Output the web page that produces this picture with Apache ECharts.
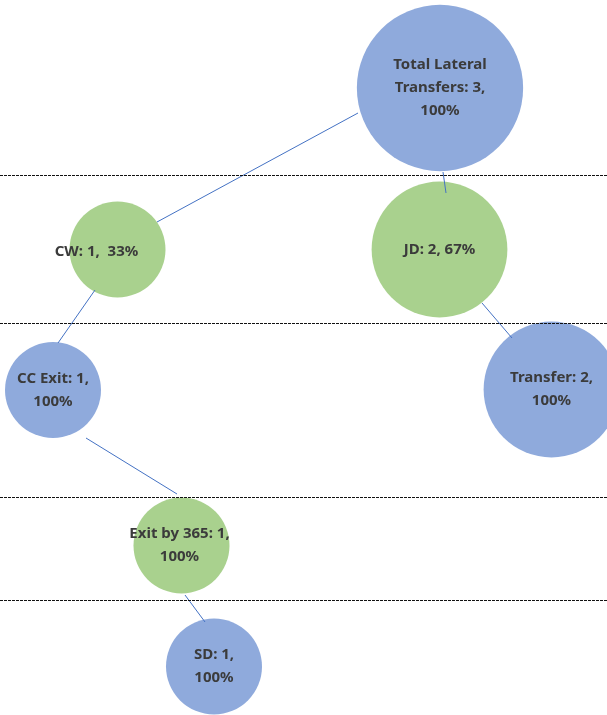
<!DOCTYPE html>
<html>
<head>
<meta charset="utf-8">
<script src="https://cdn.jsdelivr.net/npm/echarts@6/dist/echarts.min.js"></script>
<style>
  html, body { margin: 0; padding: 0; background: #fff; }
  #treeChart { width: 607px; height: 715px; }
</style>
</head>
<body>
<div id="treeChart"></div>
<script>
// nodes of the transfer tree
const nodeNames = ['Total Lateral\nTransfers', 'CW', 'JD', 'CC Exit', 'Transfer', 'Exit by 365', 'SD']
const nodeCounts = [3, 1, 2, 1, 2, 1, 1]
const nodePercents = [100, 33, 67, 100, 100, 100, 100]
const nodeSeparators = ['\n', '  ', ' ', '\n', '\n', '\n', '\n']
const nodeLevels = [0, 1, 1, 2, 2, 3, 4]
// node centres, in chart units
const nodeX = [440, 117.5, 439.5, 53, 551.5, 181.5, 214]
const nodeY = [88, 249.5, 249.5, 390, 389.5, 545.5, 666.5]

// connectors between parent and child: [x1, y1, x2, y2]
const linkSegments = [
  [358, 113, 157, 222],
  [443, 172, 446, 193],
  [95, 290, 58, 343],
  [482, 303, 512, 338],
  [86, 438, 177, 494],
  [185, 595, 205, 622]
]

// dotted separators between levels
const levelBreaks = [175.5, 323.5, 497, 600]

const levelColors = ['#8FAADC', '#A9D18E']
// the CW label sits a bit left of its bubble
const labelShifts = [[0, 0], [-21, 2], [0, 0], [0, 0], [0, 0], [-2, 0], [0, 0]]

const chart = echarts.init(document.getElementById('treeChart'))

const nodeData = nodeNames.map((name, i) => ({
  value: [nodeX[i], nodeY[i], nodeCounts[i]],
  label: {
    offset: labelShifts[i],
    formatter: name + ': ' + nodeCounts[i] + ',' + nodeSeparators[i] + nodePercents[i] + '%'
  },
  itemStyle: { color: levelColors[nodeLevels[i] % 2], opacity: 1 }
}))

chart.setOption({
  backgroundColor: '#fff',
  animation: false,
  grid: { left: 0, right: 0, top: 0, bottom: 0 },
  xAxis: { type: 'value', min: 0, max: 607, show: false },
  yAxis: { type: 'value', min: 0, max: 715, inverse: true, show: false },
  series: [
    {
      type: 'scatter',
      z: 2,
      clip: false,
      data: nodeData,
      symbolSize: (val) => 96 * Math.sqrt(val[2]),
      label: {
        show: true,
        position: 'inside',
        color: '#3b3b3b',
        fontFamily: 'Noto Sans',
        fontWeight: 'bold',
        fontSize: 15,
        lineHeight: 23,
        align: 'center'
      }
    },
    {
      type: 'lines',
      coordinateSystem: 'cartesian2d',
      z: 3,
      silent: true,
      lineStyle: { color: '#4472C4', width: 1, opacity: 1 },
      data: linkSegments.map((s) => ({ coords: [[s[0], s[1]], [s[2], s[3]]] }))
    },
    {
      type: 'line',
      z: 4,
      data: [],
      markLine: {
        silent: true,
        symbol: 'none',
        label: { show: false },
        lineStyle: { color: '#111', type: [3, 1], width: 1 },
        data: levelBreaks.map((y) => ({ yAxis: y }))
      }
    }
  ]
})
</script>
</body>
</html>
